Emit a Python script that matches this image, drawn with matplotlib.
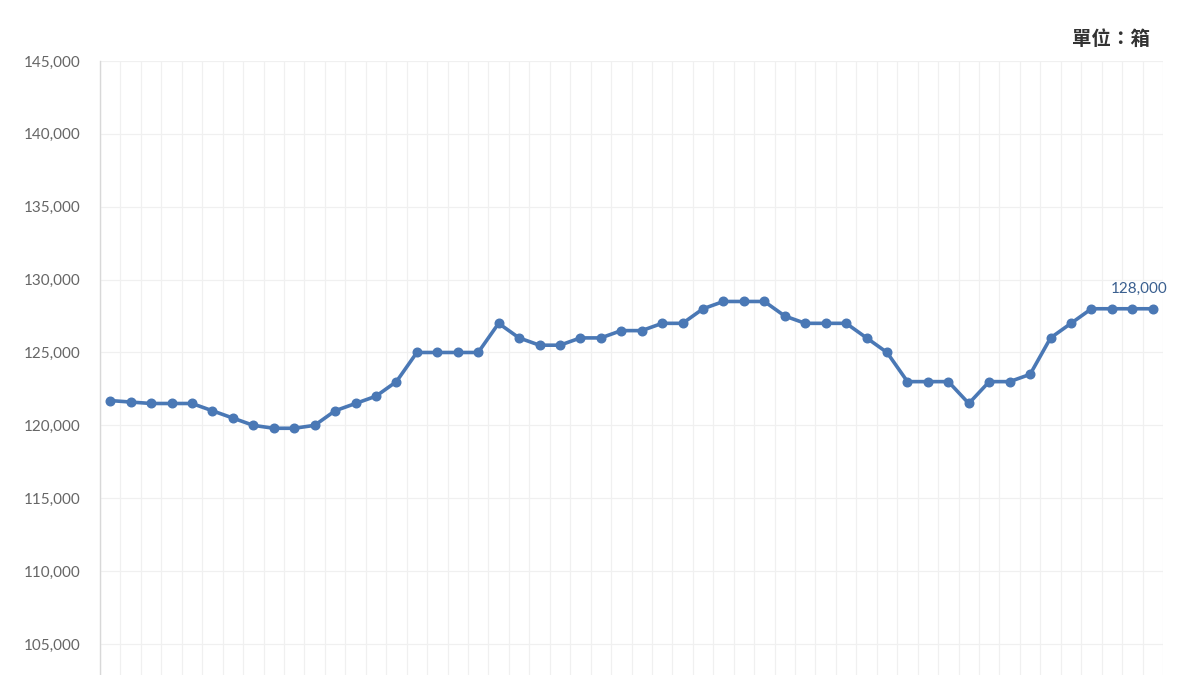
import matplotlib
matplotlib.use("Agg")
import matplotlib.pyplot as plt
from matplotlib.ticker import FuncFormatter

plt.rcParams['font.family'] = ['Lato', 'Noto Sans CJK TC', 'DejaVu Sans']

values = [121700, 121600, 121500, 121500, 121500, 121000, 120500, 120000,
          119800, 119800, 120000, 121000, 121500, 122000, 123000, 125000,
          125000, 125000, 125000, 127000, 126000, 125500, 125500, 126000,
          126000, 126500, 126500, 127000, 127000, 128000, 128500, 128500,
          128500, 127500, 127000, 127000, 127000, 126000, 125000, 123000,
          123000, 123000, 121500, 123000, 123000, 123500, 126000, 127000,
          128000, 128000, 128000, 128000]
y_ticks = [105000, 110000, 115000, 120000, 125000, 130000, 135000, 140000, 145000]
unit_label = "單位：箱"
last_label = "128,000"

W, H = 1200, 675
fig = plt.figure(figsize=(12, 6.75), dpi=100)
left, right, top, bottom = 100, 1163, 61, 675
ax = fig.add_axes([left / W, 1 - bottom / H, (right - left) / W, (bottom - top) / H])

x = list(range(len(values)))
line_color = '#4a78b5'
ax.plot(x, values, color=line_color, lw=2.6, marker='o', ms=6.2, mfc=line_color,
        mec=line_color, zorder=3, solid_joinstyle='round')

ax.set_xlim(-0.5, len(values) - 0.5)
ax.set_ylim(102870, 145000)
ax.set_yticks(y_ticks)
ax.yaxis.set_major_formatter(FuncFormatter(lambda v, p: f"{int(v):,}"))
ax.set_xticks([i - 0.5 for i in range(len(values) + 1)])
ax.set_xticklabels([])
ax.tick_params(axis='x', length=0)
ax.tick_params(axis='y', length=0, pad=14, labelsize=11, labelcolor='#666666')

ax.grid(True, axis='both', color='#f0f0f0', lw=0.9, zorder=0)
for s in ['top', 'right', 'bottom']:
    ax.spines[s].set_visible(False)
ax.spines['left'].set_color('#d8d8d8')
ax.spines['left'].set_linewidth(1.0)

ax.annotate(last_label, (x[-1], values[-1]), xytext=(-9.5, 9.5), textcoords='offset points',
            ha='center', va='bottom', fontsize=11, color='#3a5f8f')

fig.text(1150 / W, 1 - 39 / H, unit_label, ha='right', va='center', fontsize=14,
         fontweight='bold', color='#333333', family=['Noto Sans CJK TC', 'DejaVu Sans'])

fig.savefig('out.png', dpi=100)
